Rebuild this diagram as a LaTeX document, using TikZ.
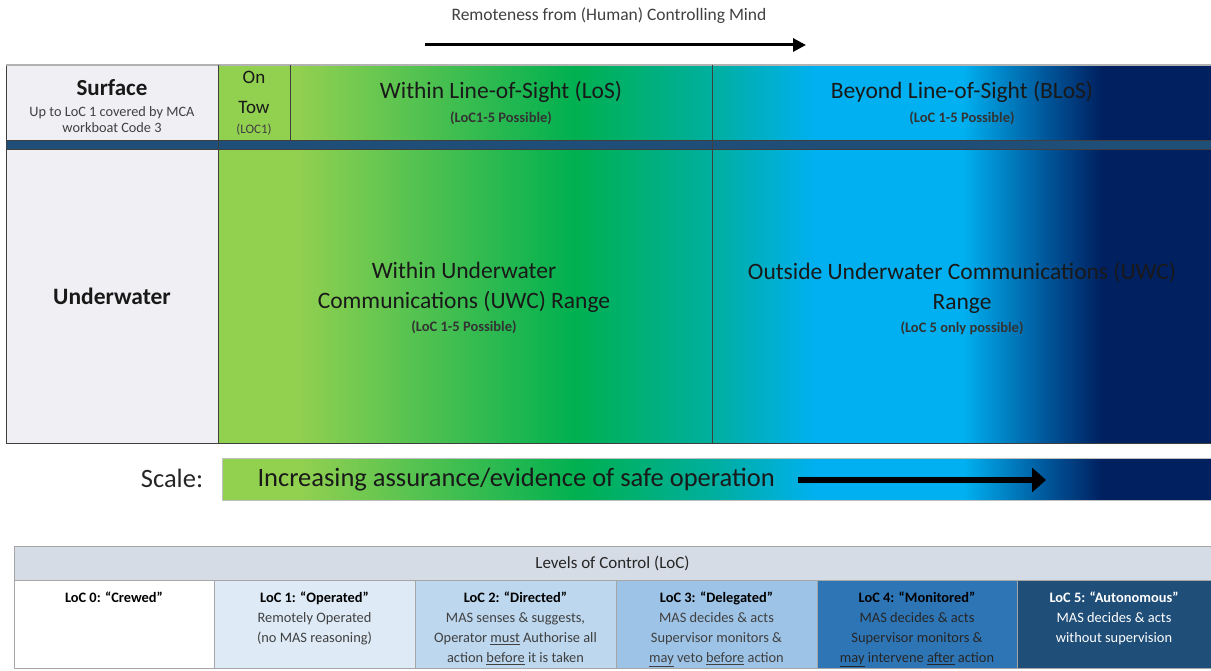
\documentclass[tikz,border=0pt]{standalone}
\usepackage{fontspec}
\setmainfont{Carlito}
\usepackage{xcolor}
\usepackage{tikz}
\usetikzlibrary{positioning,arrows.meta}

\definecolor{ltgreen}{HTML}{92D050}
\definecolor{midgreen}{HTML}{00B050}
\definecolor{tealc}{HTML}{00AFA0}
\definecolor{cyanc}{HTML}{00B0F0}
\definecolor{deepblue}{HTML}{005A9E}
\definecolor{navy}{HTML}{002060}
\definecolor{band}{HTML}{1F4E79}
\definecolor{sidegray}{HTML}{F0F0F4}
\definecolor{hdrgray}{HTML}{D6DCE5}
\definecolor{locA}{HTML}{DEEBF7}
\definecolor{locB}{HTML}{BDD7EE}
\definecolor{locC}{HTML}{9DC3E6}
\definecolor{locD}{HTML}{2E75B6}
\definecolor{locE}{HTML}{1F4E79}
\definecolor{txtgray}{HTML}{404040}
\definecolor{rule}{HTML}{3F3F3F}

% green -> teal -> cyan -> navy, stretched over the middle 50bp
\pgfdeclarehorizontalshading{remote}{100bp}{color(0bp)=(ltgreen); color(29bp)=(ltgreen); color(43bp)=(midgreen); color(50bp)=(tealc); color(55bp)=(cyanc); color(62.5bp)=(cyanc); color(66.5bp)=(deepblue); color(69.5bp)=(navy); color(100bp)=(navy)}

\newcommand{\fs}[2]{\fontsize{#1}{#2}\selectfont}

\begin{document}
\begin{tikzpicture}[
    x=1pt, y=-1pt,
    title/.style={align=center, text=black!90, font=\fs{23.5}{30}},
    sub/.style={align=center, text=black!80, font=\fs{14.5}{16}\bfseries},
    note/.style={align=center, text=txtgray, font=\fs{14.3}{16}},
    loccell/.style={rectangle, draw=gray!70, line width=1pt, minimum height=88pt, inner sep=0pt, outer sep=0pt},
    loctext/.style={align=center, inner sep=0pt, text=txtgray, font=\fs{14.4}{20}},
    arrow/.style={line width=3pt, -{Triangle[length=13pt, width=13pt]}},
    bigarrow/.style={line width=5.5pt, -{Triangle[length=14pt, width=24pt]}}
]
    \useasboundingbox (0,0) rectangle (1211,671);

    % remoteness arrow
    \node[text=txtgray, font=\fs{17.5}{20}] (remote) at (609,16) {Remoteness from (Human) Controlling Mind};
    \coordinate (remfrom) at (425,45);
    \coordinate (remto) at (806,45);
    \draw[arrow] (remfrom) -- (remto);

    % main table
    \shade[shading=remote] (218,65) rectangle (1211,443);
    \fill[ltgreen] (218,65) rectangle (290,141);
    \fill[sidegray] (6,65) rectangle (218,443);
    \fill[band] (6,141) rectangle (1211,150);
    \draw[rule, line width=1pt] (6,65) rectangle (1211,443);
    \draw[gray!60, line width=1.5pt] (6,65) -- (1211,65);
    \draw[rule, line width=1pt] (6,141) -- (1211,141) (6,150) -- (1211,150);
    \draw[rule, line width=1pt] (218,65) -- (218,443) (290,65) -- (290,141) (712,65) -- (712,443);

    \node[title, font=\fs{23}{28}\bfseries] (surface) at (112,88) {Surface};
    \node[note, below=3pt of surface] (surfnote) {Up to LoC 1 covered by MCA\\workboat Code 3};
    \node[title, font=\fs{19}{30}] (ontow) at (254,92) {On\\Tow};
    \node[note, font=\fs{13}{16}] (loctag) at (254,130) {(LOC1)};

    \node[title] (los) at (501,92) {Within Line-of-Sight (LoS)};
    \node[sub, below=2pt of los] (lossub) {(LoC1-5 Possible)};
    \node[title] (blos) at (962,92) {Beyond Line-of-Sight (BLoS)};
    \node[sub, below=2pt of blos] (blossub) {(LoC 1-5 Possible)};

    \node[title, font=\fs{23.5}{30}\bfseries] (under) at (112,296) {Underwater};
    \node[title] (uwc) at (464,287) {Within Underwater\\Communications (UWC) Range};
    \node[sub, below=1pt of uwc] (uwcsub) {(LoC 1-5 Possible)};
    \node[title] (nouwc) at (962,288) {Outside Underwater Communications (UWC)\\Range};
    \node[sub, below=1pt of nouwc] (nouwcsub) {(LoC 5 only possible)};

    % assurance scale
    \node[text=black!85, font=\fs{26.5}{30}] (scale) at (172,478) {Scale:};
    \shade[shading=remote] (222,458) rectangle (1211,500);
    \draw[gray!50, line width=1pt] (222,458) rectangle (1211,500);
    \node[anchor=west, text=black!90, font=\fs{26.5}{30}] (assure) at (254,480) {Increasing assurance/evidence of safe operation};
    \coordinate (scaletip) at (1046,480);
    \draw[bigarrow] ([xshift=20pt]assure.east) -- (scaletip);

    % levels of control
    \node[rectangle, draw=gray!70, line width=1pt, fill=hdrgray, minimum width=1197pt, minimum height=34pt, inner sep=0pt, outer sep=0pt] (lochead) at (612.5,563) {};
    \node[text=black!85, font=\fs{17}{20}] (loctitle) at (lochead.center) {Levels of Control (LoC)};

    \node[loccell, fill=white, minimum width=200pt] (loc0) at (114,624) {};
    \node[loccell, fill=locA, minimum width=201pt, right=0pt of loc0] (loc1) {};
    \node[loccell, fill=locB, minimum width=201pt, right=0pt of loc1] (loc2) {};
    \node[loccell, fill=locC, minimum width=201pt, right=0pt of loc2] (loc3) {};
    \node[loccell, fill=locD, minimum width=200pt, right=0pt of loc3] (loc4) {};
    \node[loccell, fill=locE, minimum width=194pt, right=0pt of loc4] (loc5) {};

    \node[loctext, below=12pt of loc0.north] (loc0txt) {\textcolor{black}{\bfseries LoC 0: “Crewed”}};
    \node[loctext, below=12pt of loc1.north] (loc1txt) {\textcolor{black}{\bfseries LoC 1: “Operated”}\\Remotely Operated\\(no MAS reasoning)};
    \node[loctext, below=12pt of loc2.north] (loc2txt) {\textcolor{black}{\bfseries LoC 2: “Directed”}\\MAS senses \& suggests,\\Operator \underline{must} Authorise all\\action \underline{before} it is taken};
    \node[loctext, below=12pt of loc3.north] (loc3txt) {\textcolor{black}{\bfseries LoC 3: “Delegated”}\\MAS decides \& acts\\Supervisor monitors \&\\\underline{may} veto \underline{before} action};
    \node[loctext, text=black!85, below=12pt of loc4.north] (loc4txt) {\textcolor{black}{\bfseries LoC 4: “Monitored”}\\MAS decides \& acts\\Supervisor monitors \&\\\underline{may} intervene \underline{after} action};
    \node[loctext, text=white, below=12pt of loc5.north] (loc5txt) {{\bfseries LoC 5: “Autonomous”}\\MAS decides \& acts\\without supervision};
\end{tikzpicture}
\end{document}
